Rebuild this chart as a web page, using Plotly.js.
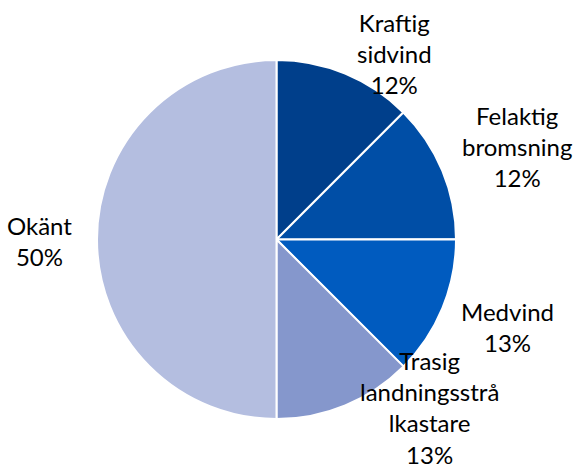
<!DOCTYPE html>
<html>
<head>
<meta charset="utf-8">
<script src="https://cdn.plot.ly/plotly-3.0.1.min.js"></script>
<style>
  html, body { margin: 0; padding: 0; background: #fff; }
  #chart { width: 577px; height: 469px; }
</style>
</head>
<body>
<div id="chart"></div>
<script>
// --- Data ---
const categories = ['Kraftig<br>sidvind', 'Felaktig<br>bromsning', 'Medvind', 'Trasig<br>landningsstrå<br>lkastare', 'Okänt'];
const shares = [12.49, 12.49, 12.51, 12.51, 50.0];

// --- Styles ---
const sliceColors = ['#003f8b', '#004ea6', '#005bbf', '#8597cc', '#b4bee0'];
// label centres in paper coordinates (Excel placed them by hand)
const labelPos = [
    [0.684, 0.885],
    [0.896, 0.687],
    [0.879, 0.303],
    [0.745, 0.131],
    [0.069, 0.486]
];

const total = shares.reduce((a, b) => a + b, 0);

const trace = {
    type: 'pie',
    labels: categories,
    values: shares,
    sort: false,
    direction: 'clockwise',
    rotation: 0,
    textinfo: 'none',
    hoverinfo: 'label+percent',
    marker: { colors: sliceColors, line: { color: '#ffffff', width: 2 } },
    domain: { x: [97 / 577, 456 / 577], y: [1 - 419 / 469, 1 - 60 / 469] },
    showlegend: false
};

const annotations = categories.map((c, i) => ({
    xref: 'paper', yref: 'paper',
    x: labelPos[i][0], y: labelPos[i][1],
    xanchor: 'center', yanchor: 'middle',
    text: c + '<br>' + Math.round(shares[i] / total * 100) + '%',
    showarrow: false,
    align: 'center',
    font: { family: 'Lato, "Open Sans", sans-serif', size: 24, color: '#000000' }
}));

const layout = {
    width: 577,
    height: 469,
    margin: { t: 0, b: 0, l: 0, r: 0 },
    paper_bgcolor: '#ffffff',
    annotations: annotations
};

Plotly.newPlot('chart', [trace], layout, { staticPlot: true });
</script>
</body>
</html>
